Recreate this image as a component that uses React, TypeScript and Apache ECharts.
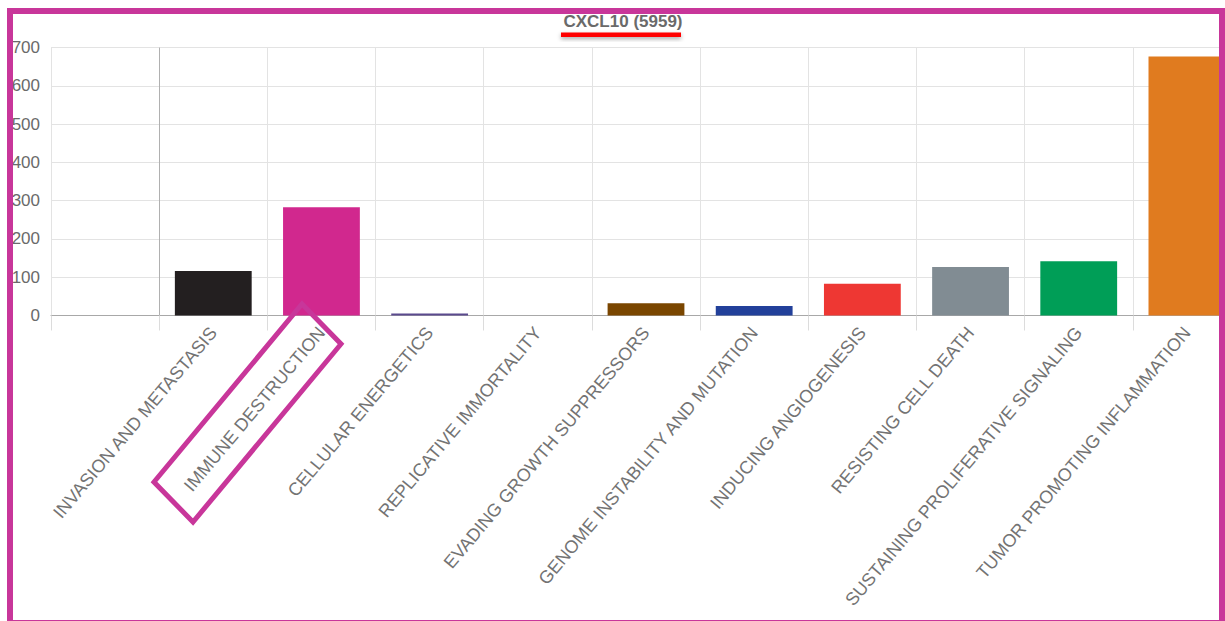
import React, { useEffect, useRef } from "react";
import * as echarts from "echarts";

const categories = [
  "",
  "INVASION AND METASTASIS",
  "IMMUNE DESTRUCTION",
  "CELLULAR ENERGETICS",
  "REPLICATIVE IMMORTALITY",
  "EVADING GROWTH SUPPRESSORS",
  "GENOME INSTABILITY AND MUTATION",
  "INDUCING ANGIOGENESIS",
  "RESISTING CELL DEATH",
  "SUSTAINING PROLIFERATIVE SIGNALING",
  "TUMOR PROMOTING INFLAMMATION",
];
const values = [null, 116, 283, 5, 0, 32, 25, 83, 127, 142, 677];
const barColors = [
  "#ffffff",
  "#231f20",
  "#d1288e",
  "#5b4a8e",
  "#999999",
  "#7a4600",
  "#22409a",
  "#ee3733",
  "#818c93",
  "#009e57",
  "#e07b1f",
];
const yTicks = { min: 0, max: 700, interval: 100 };
const titleText = "CXCL10 (5959)";

export default function App() {
  const ref = useRef<HTMLDivElement>(null);
  useEffect(() => {
    if (!ref.current) return;
    const chart = echarts.init(ref.current, null, { renderer: "svg" });
    const splitColors = categories.map((_, i) => (i === 1 ? "#b0b0b0" : "#e3e3e3"));
    splitColors.push("#e3e3e3");
    chart.setOption({
      animation: false,
      backgroundColor: "#ffffff",
      textStyle: { fontFamily: "Liberation Sans, Arial, sans-serif" },
      grid: {
        left: 51,
        width: 1190,
        top: 47.6,
        height: 267.9,
        containLabel: false,
        outerBoundsMode: "none",
      },
      xAxis: {
        type: "category",
        data: categories,
        boundaryGap: true,
        axisLine: { show: true, lineStyle: { color: "#a8a8a8", width: 1 } },
        axisTick: { show: true, interval: 0, length: 15, alignWithLabel: false, lineStyle: { color: "#dcdcdc" } },
        splitLine: { show: true, interval: 0, lineStyle: { color: splitColors, width: 1 } },
        axisLabel: {
          interval: 0,
          rotate: 50,
          margin: 14,
          fontSize: 18,
          color: "#737373",
          fontFamily: "Liberation Sans, Arial, sans-serif",
        },
      },
      yAxis: {
        type: "value",
        min: yTicks.min,
        max: yTicks.max,
        interval: yTicks.interval,
        axisLine: { show: false },
        axisTick: { show: false },
        splitLine: { show: true, lineStyle: { color: "#e3e3e3", width: 1 } },
        axisLabel: {
          margin: 11,
          fontSize: 17,
          color: "#6a6a6a",
          fontFamily: "Liberation Sans, Arial, sans-serif",
        },
      },
      series: [
        {
          type: "bar",
          barWidth: "71%",
          data: values.map((v, i) => ({ value: v, itemStyle: { color: barColors[i] } })),
        },
      ],
      graphic: [
        {
          type: "text",
          z: 100,
          x: 623,
          y: 21.5,
          style: {
            text: titleText,
            fontSize: 17,
            fontWeight: "bold",
            fill: "#6a6a6a",
            fontFamily: "Liberation Sans, Arial, sans-serif",
            textAlign: "center",
            textVerticalAlign: "middle",
          },
        },
        {
          type: "rect",
          z: 100,
          shape: { x: 561, y: 32.5, width: 120, height: 4.5 },
          style: {
            fill: "#ff0000",
            shadowBlur: 4,
            shadowColor: "rgba(0,0,0,0.35)",
            shadowOffsetY: 2,
          },
        },
        {
          type: "polygon",
          z: 100,
          shape: {
            points: [
              [302, 304],
              [341, 344],
              [193, 522],
              [154, 482],
            ],
          },
          style: { fill: "none", stroke: "#c8369a", lineWidth: 5, lineJoin: "miter" },
        },
        {
          type: "rect",
          z: 101,
          shape: { x: 10, y: 11, width: 1212, height: 612 },
          style: { fill: "none", stroke: "#c8369a", lineWidth: 6 },
        },
      ],
    });
    return () => chart.dispose();
  }, []);
  return (
    <div
      ref={ref}
      style={{ position: "fixed", left: 0, top: 0, width: 1225, height: 621, background: "#fff" }}
    />
  );
}
